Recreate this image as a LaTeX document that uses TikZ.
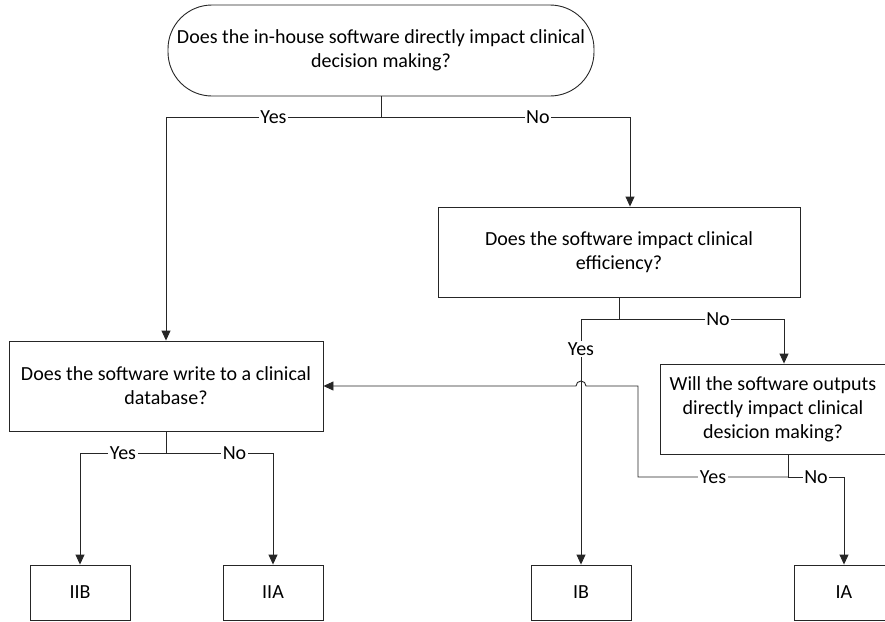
\documentclass[tikz,border=0pt]{standalone}
\usepackage{fontspec}
\setmainfont{Carlito}
\usetikzlibrary{arrows.meta,positioning}
\definecolor{ink}{HTML}{262626}
\newcommand{\qfont}{\fontsize{20}{24}\selectfont}
\tikzset{
  box/.style={draw=ink, fill=white, line width=0.9pt, align=center,
              font=\qfont, inner sep=4pt, minimum height=90pt},
  termbox/.style={box, rounded corners=44pt},
  classbox/.style={box, minimum width=100pt, minimum height=55pt},
  ln/.style={draw=ink, line width=0.9pt},
  ar/.style={ln, -{Triangle[length=10pt,width=9pt]}},
  lbl/.style={font=\qfont, fill=white, inner sep=1.5pt}
}

\begin{document}
\begin{tikzpicture}[x=1pt,y=-1pt]
  \useasboundingbox (0,0) rectangle (885,621);

  % questions
  \node[termbox, minimum width=426pt, minimum height=91pt] (q1) at (381,50.5)
      {Does the in-house software directly impact clinical\\decision making?};
  \node[box, minimum width=362pt] (q2) at (619,252)
      {Does the software impact clinical\\efficiency?};
  \node[box, minimum width=314pt] (q3) at (166,386)
      {Does the software write to a clinical\\database?};
  \node[box, minimum width=226pt] (q4) at (773,409)
      {Will the software outputs\\directly impact clinical\\desicion making?};

  % classes
  \node[classbox] (iib) at (80,592.5) {IIB};
  \node[classbox] (iia) at (273,592.5) {IIA};
  \node[classbox] (ib) at (581,592.5) {IB};
  \node[classbox] (ia) at (844,592.5) {IA};

  % junctions
  \coordinate (j1) at (381,117);
  \coordinate (j2) at (619,319);
  \coordinate (j3) at (788,477);
  \coordinate (j4) at (166,453);

  \draw[ln] (q1) -- (j1);
  \draw[ar] (j1) -| node[lbl, pos=0.25] {Yes} (q3.north);
  \draw[ar] (j1) -| node[lbl, pos=0.315] {No} ([xshift=11pt]q2.north);

  \draw[ln] (q2) -- (j2);
  \draw[ar] (j2) -| node[lbl, pos=0.561] {Yes} (ib.north);
  \draw[ar] (j2) -| node[lbl, pos=0.3] {No} ([xshift=11pt]q4.north);

  \draw[ln] ([xshift=15pt]q4.south) -- (j3);
  \draw[ar] (j3) -- node[lbl] {Yes} (638,477) -- (638,386) -- (586,386)
      arc[start angle=0, end angle=180, radius=5pt] -- (q3.east);
  \draw[ar] (j3) -| node[lbl, pos=0.25] {No} (ia.north);

  \draw[ln] (q3) -- (j4);
  \draw[ar] (j4) -| node[lbl, pos=0.25] {Yes} (iib.north);
  \draw[ar] (j4) -| node[lbl, pos=0.32] {No} (iia.north);
\end{tikzpicture}
\end{document}
